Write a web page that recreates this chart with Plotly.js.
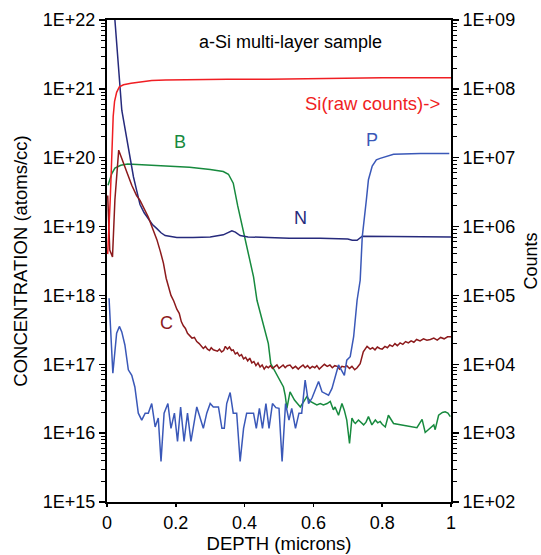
<!DOCTYPE html>
<html>
<head>
<meta charset="utf-8">
<script src="https://cdn.plot.ly/plotly-3.0.1.min.js"></script>
<style>html,body{margin:0;padding:0;background:#fff;}#chart{width:541px;height:555px;}</style>
</head>
<body>
<div id="chart"></div>
<script>
// Depth values (microns) and log10 of the concentration / counts.
const siDepth = [0.002,0.006,0.009,0.012,0.015,0.018,0.022,0.028,0.036,0.048,0.07,0.096,0.13,0.17,0.26,0.35,0.47,0.6,0.7,0.8,0.9,1.0];
const siLogCounts = [5.6,5.95,6.35,6.75,7.2,7.6,7.82,7.95,8.03,8.06,8.08,8.10,8.12,8.13,8.14,8.14,8.14,8.15,8.15,8.16,8.16,8.16];

const bDepth = [0.003,0.014,0.023,0.04,0.06,0.1,0.15,0.2,0.24,0.3,0.338,0.353,0.367,0.38,0.397,0.426,0.436,0.455,0.469,0.476,0.498,0.513,0.518,0.523,0.532,0.545,0.562,0.572,0.581,0.591,0.600,0.610,0.620,0.629,0.640,0.649,0.658,0.663,0.673,0.683,0.690,0.697,0.705,0.712,0.718,0.722,0.731,0.738,0.746,0.753,0.760,0.770,0.780,0.787,0.794,0.800,0.809,0.818,0.826,0.833,0.901,0.916,0.925,0.935,0.940,0.950,0.954,0.964,0.975,0.983,0.991,0.998];
const bLog = [19.6,19.77,19.85,19.89,19.91,19.90,19.89,19.87,19.86,19.83,19.80,19.76,19.63,19.3,18.9,18.27,17.93,17.55,17.30,17.01,16.82,16.67,16.55,16.36,16.60,16.48,16.38,16.46,16.53,16.46,16.44,16.41,16.43,16.41,16.43,16.46,16.34,16.38,16.26,16.43,16.33,16.19,15.85,16.22,16.16,16.14,16.19,16.15,16.12,16.16,16.24,16.12,16.19,16.15,16.17,16.13,16.09,16.26,16.20,16.14,16.08,16.20,16.01,16.06,16.07,16.12,16.05,16.26,16.30,16.31,16.29,16.24];

const nDepth = [0.003,0.023,0.043,0.060,0.077,0.086,0.096,0.108,0.120,0.132,0.145,0.157,0.169,0.186,0.203,0.25,0.3,0.338,0.355,0.363,0.373,0.387,0.41,0.45,0.53,0.62,0.70,0.713,0.727,0.742,0.8,0.9,1.0];
const nLog = [23.0,22.0,20.69,20.2,19.72,19.53,19.32,19.2,19.11,19.03,18.97,18.91,18.87,18.85,18.84,18.84,18.85,18.88,18.92,18.94,18.92,18.87,18.85,18.84,18.83,18.83,18.82,18.80,18.80,18.86,18.86,18.86,18.85];

const cDepth = [0.002,0.008,0.016,0.023,0.034,0.045,0.057,0.072,0.086,0.096,0.108,0.120,0.132,0.145,0.155,0.164,0.172,0.180,0.186,0.194,0.203,0.210,0.216,0.222,0.228,0.234,0.241,0.247,0.254,0.261,0.268,0.274,0.280,0.286,0.292,0.298,0.303,0.309,0.315,0.321,0.327,0.333,0.339,0.344,0.350,0.356,0.362,0.367,0.373,0.379,0.385,0.391,0.397,0.403,0.409,0.415,0.421,0.427,0.433,0.439,0.445,0.451,0.457,0.463,0.469,0.475,0.481,0.487,0.494,0.500,0.506,0.512,0.518,0.524,0.532,0.540,0.548,0.556,0.562,0.570,0.576,0.583,0.590,0.597,0.604,0.610,0.617,0.625,0.632,0.640,0.648,0.655,0.662,0.669,0.676,0.683,0.690,0.697,0.705,0.712,0.720,0.727,0.736,0.745,0.756,0.765,0.772,0.779,0.786,0.793,0.800,0.808,0.815,0.822,0.830,0.837,0.844,0.852,0.860,0.868,0.876,0.884,0.892,0.900,0.910,0.920,0.930,0.940,0.950,0.960,0.970,0.980,0.990,1.000];
const cLog = [19.45,18.66,18.56,19.39,20.11,19.95,19.80,19.60,19.45,19.38,19.27,19.14,18.98,18.81,18.64,18.47,18.25,18.08,18.00,17.92,17.80,17.74,17.62,17.56,17.52,17.45,17.41,17.38,17.39,17.33,17.30,17.27,17.23,17.26,17.22,17.20,17.24,17.21,17.20,17.19,17.22,17.18,17.20,17.26,17.22,17.25,17.20,17.21,17.15,17.17,17.12,17.14,17.08,17.10,17.05,17.09,17.02,17.04,16.98,17.02,16.96,16.99,16.93,16.97,16.95,16.98,16.94,16.97,16.99,16.94,16.96,16.99,16.95,16.98,16.99,16.94,16.97,16.93,16.96,16.99,16.95,16.98,16.94,16.97,16.95,16.98,16.93,16.96,17.00,16.97,16.99,16.95,16.98,16.97,16.93,16.97,16.96,16.98,16.94,16.97,16.92,16.95,17.01,17.18,17.26,17.22,17.24,17.21,17.25,17.23,17.22,17.26,17.24,17.28,17.26,17.30,17.27,17.31,17.29,17.33,17.31,17.34,17.32,17.36,17.34,17.37,17.35,17.36,17.38,17.35,17.39,17.37,17.40,17.40];

const pDepth = [0.006,0.017,0.028,0.036,0.043,0.052,0.062,0.072,0.081,0.091,0.101,0.111,0.120,0.130,0.140,0.149,0.157,0.166,0.177,0.186,0.196,0.205,0.214,0.224,0.234,0.244,0.261,0.280,0.290,0.300,0.309,0.324,0.334,0.341,0.348,0.358,0.367,0.377,0.387,0.397,0.406,0.416,0.426,0.434,0.443,0.452,0.462,0.471,0.481,0.491,0.500,0.509,0.519,0.529,0.537,0.548,0.558,0.566,0.576,0.586,0.596,0.615,0.625,0.644,0.654,0.673,0.690,0.697,0.707,0.717,0.727,0.736,0.742,0.754,0.760,0.771,0.783,0.794,0.814,0.833,0.911,0.995];
const pLog = [17.96,16.87,17.45,17.55,17.47,17.28,16.92,16.84,16.67,16.29,16.19,16.29,16.29,16.43,16.09,16.22,15.59,16.29,16.43,16.07,16.29,15.88,16.38,15.88,16.29,15.88,16.38,16.07,16.29,16.43,16.38,16.38,16.07,16.07,16.43,16.59,16.29,16.29,15.59,16.07,16.29,16.29,16.29,16.07,16.36,16.07,16.43,16.07,16.43,16.37,16.36,15.59,16.43,16.19,16.36,16.07,16.29,16.29,16.77,16.43,16.51,16.75,16.60,16.55,16.65,16.99,16.84,17.06,17.11,17.40,17.93,18.22,18.85,19.39,19.68,19.88,19.97,19.99,20.02,20.05,20.06,20.06];

const leftTickExp = [15,16,17,18,19,20,21,22];
const leftTickText = ['1E+15','1E+16','1E+17','1E+18','1E+19','1E+20','1E+21','1E+22'];
const rightTickExp = [2,3,4,5,6,7,8,9];
const rightTickText = ['1E+02','1E+03','1E+04','1E+05','1E+06','1E+07','1E+08','1E+09'];
const xTickVals = [0,0.2,0.4,0.6,0.8,1];
const xTickText = ['0','0.2','0.4','0.6','0.8','1'];

const pow = a => a.map(v => Math.pow(10, v));
function minorVals(exps){ const out=[]; for (let i=0;i<exps.length-1;i++){ for(let k=2;k<=9;k++) out.push(k*Math.pow(10,exps[i])); } return out; }

const FONT = '"Liberation Sans", Arial, sans-serif';
const colSi = '#f01e23', colB = '#178a3e', colN = '#262a7c', colC = '#8c1a1c', colP = '#3a58b8';

const traces = [
  {x: siDepth, y: pow(siLogCounts), yaxis: 'y2', mode: 'lines', line: {color: colSi, width: 1.5}, name: 'Si'},
  {x: bDepth, y: pow(bLog), mode: 'lines', line: {color: colB, width: 1.5}, name: 'B'},
  {x: nDepth, y: pow(nLog), mode: 'lines', line: {color: colN, width: 1.5}, name: 'N'},
  {x: cDepth, y: pow(cLog), mode: 'lines', line: {color: colC, width: 1.5}, name: 'C'},
  {x: pDepth, y: pow(pLog), mode: 'lines', line: {color: colP, width: 1.5}, name: 'P'}
];

const layout = {
  width: 541, height: 555,
  margin: {l: 107, r: 90, t: 20, b: 53},
  paper_bgcolor: '#fff', plot_bgcolor: '#fff',
  showlegend: false,
  font: {family: FONT, size: 18, color: '#000'},
  xaxis: {
    range: [0, 1], tickmode: 'array', tickvals: xTickVals, ticktext: xTickText,
    ticks: 'outside', ticklen: 3, tickwidth: 1.5, tickcolor: '#000',
    showline: true, linecolor: '#000', linewidth: 2, mirror: true,
    showgrid: false, zeroline: false,
    tickfont: {family: FONT, size: 18},
    title: {text: 'DEPTH (microns)', font: {family: FONT, size: 18.5}, standoff: 5}
  },
  yaxis: {
    type: 'log', range: [15, 22], tickmode: 'array', tickvals: pow(leftTickExp), ticktext: leftTickText,
    ticks: 'outside', ticklen: 6, tickwidth: 1.5, tickcolor: '#000',
    minor: {tickmode: 'array', tickvals: minorVals(leftTickExp), ticks: 'outside', ticklen: 4, tickwidth: 1, tickcolor: '#000', showgrid: false},
    showline: true, linecolor: '#000', linewidth: 2,
    showgrid: false, zeroline: false,
    tickfont: {family: FONT, size: 18},
    title: {text: 'CONCENTRATION (atoms/cc)', font: {family: FONT, size: 18.5}, standoff: 10}
  },
  yaxis2: {
    type: 'log', range: [2, 9], overlaying: 'y', side: 'right',
    tickmode: 'array', tickvals: pow(rightTickExp), ticktext: rightTickText,
    ticks: 'outside', ticklen: 6, tickwidth: 1.5, tickcolor: '#000',
    minor: {tickmode: 'array', tickvals: minorVals(rightTickExp), ticks: 'outside', ticklen: 4, tickwidth: 1, tickcolor: '#000', showgrid: false},
    showline: true, linecolor: '#000', linewidth: 2,
    showgrid: false, zeroline: false,
    tickfont: {family: FONT, size: 18},
    title: {text: 'Counts', font: {family: FONT, size: 18}, standoff: 12}
  },
  annotations: [
    {x: 0.532, y: 21.68, xref: 'x', yref: 'y', text: 'a-Si multi-layer sample', showarrow: false, font: {family: FONT, size: 18, color: '#000'}},
    {x: 0.773, y: 20.79, xref: 'x', yref: 'y', text: 'Si(raw counts)->', showarrow: false, font: {family: FONT, size: 18.5, color: colSi}},
    {x: 0.212, y: 20.23, xref: 'x', yref: 'y', text: 'B', showarrow: false, font: {family: FONT, size: 18, color: colB}},
    {x: 0.562, y: 19.12, xref: 'x', yref: 'y', text: 'N', showarrow: false, font: {family: FONT, size: 18, color: colN}},
    {x: 0.172, y: 17.60, xref: 'x', yref: 'y', text: 'C', showarrow: false, font: {family: FONT, size: 18, color: colC}},
    {x: 0.771, y: 20.26, xref: 'x', yref: 'y', text: 'P', showarrow: false, font: {family: FONT, size: 18, color: colP}}
  ]
};

Plotly.newPlot('chart', traces, layout, {displayModeBar: false, staticPlot: true});
</script>
</body>
</html>
